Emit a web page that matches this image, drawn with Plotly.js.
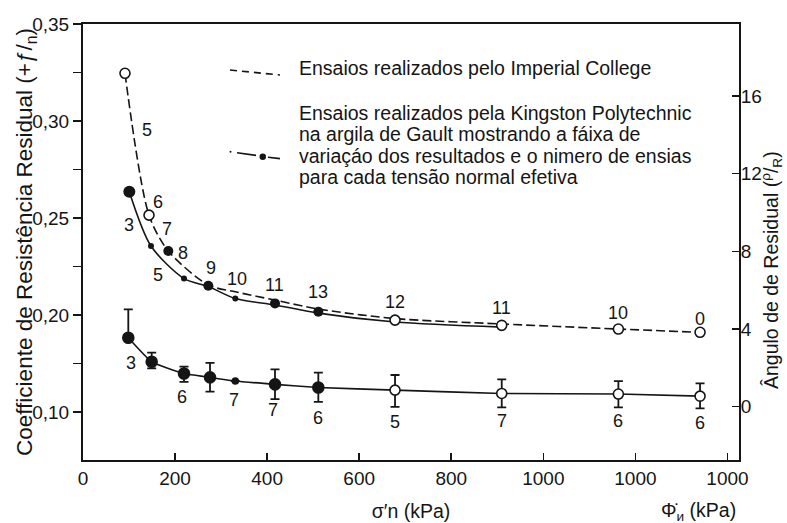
<!DOCTYPE html>
<html><head><meta charset="utf-8">
<script src="https://cdn.plot.ly/plotly-3.0.1.min.js"></script>
<style>html,body{margin:0;padding:0;background:#fff;}#chart{width:787px;height:523px;}</style>
</head><body><div id="chart"></div>
<script>
// ---------- DATA ----------
// Imperial College curve (dashed)
const imperialX = [91.2, 143.4, 185.3, 272.2, 330.9, 417.1, 511.2, 677.8, 909.6, 1163, 1340.4];
const imperialY = [0.3246, 0.2515, 0.2330, 0.2155, 0.2120, 0.2077, 0.2031, 0.1982, 0.1954, 0.1928, 0.1911];
// Kingston Polytechnic upper curve (solid)
const kingstonX = [100.6, 147.7, 219.4, 272.2, 330.9, 417.1, 511.2, 677.8, 909.6];
const kingstonY = [0.2636, 0.2356, 0.2188, 0.2147, 0.2085, 0.2052, 0.2010, 0.1964, 0.1938];
// open circles on the upper curves
const openX = [91.2, 143.4, 677.8, 909.6, 1163, 1340.4];
const openY = [0.3246, 0.2515, 0.1974, 0.1947, 0.1928, 0.1911];
// large filled points on the upper curves
const filledX = [100.6, 185.3, 272.2, 417.1, 511.2];
const filledY = [0.2636, 0.2330, 0.2151, 0.2060, 0.2017];
// small filled points on the upper curve
const smallX = [147.7, 219.4, 330.9];
const smallY = [0.2356, 0.2188, 0.2085];
// lower curve with range bars
const lowerX = [98.4, 149.2, 219.4, 275.9, 330.9, 417.1, 511.2, 677.8, 909.6, 1163, 1340.4];
const lowerY = [0.1883, 0.1759, 0.1699, 0.1679, 0.1660, 0.1643, 0.1627, 0.1613, 0.1596, 0.1593, 0.1582];
const lowerErrPlus = [0.0146, 0.0047, 0.0035, 0.0075, null, 0.0077, 0.0076, 0.0078, 0.0073, 0.0067, 0.0066];
const lowerErrMinus = [0, 0.0034, 0.0043, 0.0074, null, 0.0076, 0.0074, 0.0086, 0.0072, 0.0069, 0.0063];
const lowerKind = ['big', 'big', 'big', 'big', 'small', 'big', 'big', 'open', 'open', 'open', 'open'];
// number of tests labels
const countX = [138.4, 162.3, 100.6, 183.1, 162.3, 216.6, 277.4, 335.2, 415.6, 511.2, 677.8, 909.6, 1163, 1340.4,
                103.6, 215.7, 328, 412.1, 511.2, 677.8, 909.6, 1163, 1340.4];
const countY = [0.2954, 0.2584, 0.2464, 0.2442, 0.2206, 0.2318, 0.2244, 0.2184, 0.2155, 0.2120, 0.2067, 0.2034, 0.2013, 0.1979,
                0.1751, 0.1579, 0.1562, 0.1510, 0.1468, 0.1450, 0.1455, 0.1455, 0.1442];
const countText = ['5', '6', '3', '7', '5', '8', '9', '10', '11', '13', '12', '11', '10', '0',
                   '3', '6', '7', '7', '6', '5', '7', '6', '6'];
// ticks
const xTickVals = [0, 200, 400, 600, 800, 1000, 1200, 1400];
const xTickText = ['0', '200', '400', '600', '800', '1000', '1000', '1000'];
const yTickVals = [0.15, 0.175, 0.2, 0.225, 0.25, 0.275, 0.3, 0.325, 0.35];
const yTickText = ['0,10', ' ', '0,20', ' ', '0,25', ' ', '0,30', ' ', '0,35'];
const y2TickVals = [0, 4, 8, 12, 16];
const y2TickText = ['0', '4', '8', '12', '16'];
const legendLines = [
  'Ensaios realizados pelo Imperial College',
  'Ensaios realizados pela Kingston Polytechnic',
  'na argila de Gault mostrando a fáixa de',
  'variaçáo dos resultados e o nimero de ensias',
  'para cada tensão normal efetiva'
];

// ---------- STYLE ----------
const INK = '#151515';
const FONT = 'Liberation Sans, Arial, Helvetica, sans-serif';
const NARROW = 'Liberation Sans Narrow, Arial Narrow, Liberation Sans, Arial, sans-serif';
const L = 83, T = 24, PW = 656, PH = 436;
const PX = p => (p - L) / PW;
const PY = p => (T + PH - p) / PH;

const traces = [
  { x: imperialX, y: imperialY, mode: 'lines', line: { color: INK, width: 1.6, dash: '9px,4px', shape: 'spline', smoothing: 0.8 }, hoverinfo: 'skip' },
  { x: kingstonX, y: kingstonY, mode: 'lines', line: { color: INK, width: 1.6, shape: 'spline', smoothing: 0.8 }, hoverinfo: 'skip' },
  { x: lowerX, y: lowerY, mode: 'lines+markers', line: { color: INK, width: 1.6, shape: 'spline', smoothing: 0.4 },
    error_y: { type: 'data', symmetric: false, array: lowerErrPlus, arrayminus: lowerErrMinus, color: INK, thickness: 1.8, width: 4.5 },
    marker: { symbol: 'circle', opacity: 1, size: lowerKind.map(k => k === 'big' ? 11 : k === 'small' ? 6 : 10),
              color: lowerKind.map(k => k === 'open' ? 'white' : INK), line: { color: INK, width: 1.6 } }, hoverinfo: 'skip' },
  { x: openX, y: openY, mode: 'markers', marker: { symbol: 'circle', opacity: 1, size: 10, color: 'white', line: { color: INK, width: 1.6 } }, hoverinfo: 'skip' },
  { x: filledX, y: filledY, mode: 'markers', marker: { symbol: 'circle', opacity: 1, size: filledX.map((v, i) => i === 0 ? 12 : 10), color: INK, line: { width: 0 } }, hoverinfo: 'skip' },
  { x: smallX, y: smallY, mode: 'markers', marker: { symbol: 'circle', opacity: 1, size: 6, color: INK, line: { width: 0 } }, hoverinfo: 'skip' },
  { x: [], y: [], yaxis: 'y2', mode: 'markers', hoverinfo: 'skip' }
];

const annotations = countX.map((x, i) => ({
  x: x, y: countY[i], xref: 'x', yref: 'y', text: countText[i], showarrow: false,
  xanchor: 'center', yanchor: 'middle', font: { family: NARROW, size: 18, color: INK }
}));
const legendYs = [68.3, 112.7, 134, 156.3, 177];
legendLines.forEach((t, i) => annotations.push({
  x: PX(297), y: PY(legendYs[i]), xref: 'paper', yref: 'paper', text: t, showarrow: false,
  xanchor: 'left', yanchor: 'middle', font: { family: FONT, size: 19.5, color: INK }
}));
annotations.push({
  x: PX(26), y: PY(242), xref: 'paper', yref: 'paper', showarrow: false, textangle: -90,
  text: 'Coefficiente de Resistência Residual (+ƒ/<sub>n</sub>)', xanchor: 'center', yanchor: 'middle',
  font: { family: FONT, size: 22.5, color: INK }
});
annotations.push({
  x: PX(771), y: PY(270), xref: 'paper', yref: 'paper', showarrow: false, textangle: -90,
  text: 'Ângulo de de Residual (<sup>ρ</sup>/<sub>R</sub>)', xanchor: 'center', yanchor: 'middle',
  font: { family: FONT, size: 19.5, color: INK }
});
annotations.push({
  x: PX(698), y: PY(511), xref: 'paper', yref: 'paper', showarrow: false,
  text: 'Φ̇<sub>и</sub> (kPa)', xanchor: 'center', yanchor: 'middle',
  font: { family: FONT, size: 19.5, color: INK }
});

const shapes = [
  { type: 'line', xref: 'paper', yref: 'paper', x0: PX(230), y0: PY(70), x1: PX(280), y1: PY(75), line: { color: INK, width: 1.6, dash: '7px,5px' } },
  { type: 'circle', xref: 'paper', yref: 'paper', x0: PX(229.5), x1: PX(231.5), y0: PY(150.7), y1: PY(152.7), fillcolor: INK, line: { width: 0 } },
  { type: 'line', xref: 'paper', yref: 'paper', x0: PX(237), y0: PY(152.8), x1: PX(256), y1: PY(155.4), line: { color: INK, width: 1.6 } },
  { type: 'circle', xref: 'paper', yref: 'paper', x0: PX(259.5), x1: PX(266), y0: PY(153.5), y1: PY(160), fillcolor: INK, line: { width: 0 } },
  { type: 'line', xref: 'paper', yref: 'paper', x0: PX(268), y0: PY(157.2), x1: PX(280), y1: PY(158.6), line: { color: INK, width: 1.6 } }
];

const layout = {
  width: 787, height: 523,
  margin: { l: L, r: 787 - L - PW, t: T, b: 523 - T - PH, pad: 0 },
  paper_bgcolor: 'white', plot_bgcolor: 'white', showlegend: false,
  font: { family: FONT, size: 19, color: INK },
  xaxis: {
    range: [0, 1425], tickvals: xTickVals, ticktext: xTickText, ticks: 'inside', ticklen: 7, tickwidth: 1.6, tickcolor: INK,
    showline: true, linecolor: INK, linewidth: 2, mirror: true, showgrid: false, zeroline: false, automargin: false,
    tickfont: { family: FONT, size: 19, color: INK },
    title: { text: 'σ′n (kPa)', standoff: 17, font: { family: FONT, size: 19.5, color: INK } }
  },
  yaxis: {
    range: [0.1253, 0.35], tickvals: yTickVals, ticktext: yTickText, ticks: 'outside', ticklen: 8, tickwidth: 1.6, tickcolor: INK,
    showline: true, linecolor: INK, linewidth: 2, showgrid: false, zeroline: false, automargin: false,
    tickfont: { family: FONT, size: 19, color: INK }
  },
  yaxis2: {
    overlaying: 'y', side: 'right', range: [-2.75, 19.71], tickvals: y2TickVals, ticktext: y2TickText,
    ticks: 'inside', ticklen: 7, tickwidth: 1.6, tickcolor: INK, showline: true, linecolor: INK, linewidth: 2,
    ticklabelstandoff: -4,
    showgrid: false, zeroline: false, automargin: false, tickfont: { family: FONT, size: 19, color: INK }
  },
  annotations: annotations,
  shapes: shapes
};

Plotly.newPlot('chart', traces, layout, { staticPlot: true, displayModeBar: false });
</script>
</body></html>
